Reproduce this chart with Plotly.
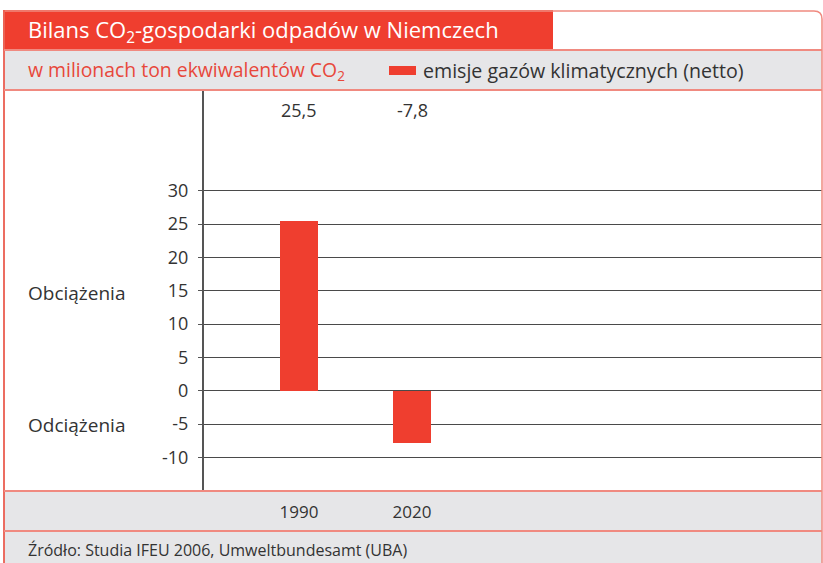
import plotly.graph_objects as go

# ---- data ----
years = ["1990", "2020"]
values = [25.5, -7.8]
value_labels = ["25,5", "-7,8"]
y_ticks = [-10, -5, 0, 5, 10, 15, 20, 25, 30]
title_text = "Bilans CO<sub>2</sub>-gospodarki odpadów w Niemczech"
subtitle_text = "w milionach ton ekwiwalentów CO<sub>2</sub>"
legend_text = "emisje gazów klimatycznych (netto)"
source_text = "Źródło: Studia IFEU 2006, Umweltbundesamt (UBA)"
side_labels = ["Obciążenia", "Odciążenia"]

# ---- layout geometry (pixels) ----
W, H = 823, 563
L, R, T, B = 204, 822, 90, 491
RED = "#ef3e2f"
LINE_RED = "#f08a80"
GRAY = "#e6e6e8"
TXT = "#333333"
FONT = "Open Sans"


def px(x):
    return (x - L) / (R - L)


def py(y):
    return (B - y) / (B - T)


fig = go.Figure()
fig.add_trace(go.Bar(x=years, y=values, marker=dict(color=RED, line=dict(width=0)),
                     width=0.336, showlegend=False, hoverinfo="x+y"))

shapes = []
# gray bands
shapes.append(dict(type="rect", xref="paper", yref="paper", x0=px(4), x1=px(822), y0=py(50), y1=py(90),
                   fillcolor=GRAY, line=dict(width=0), layer="below"))
shapes.append(dict(type="rect", xref="paper", yref="paper", x0=px(4), x1=px(822), y0=py(491), y1=py(563),
                   fillcolor=GRAY, line=dict(width=0), layer="below"))
# title red bar
shapes.append(dict(type="rect", xref="paper", yref="paper", x0=px(3), x1=px(553), y0=py(10), y1=py(50),
                   fillcolor=RED, line=dict(width=0), layer="below"))
# outer border
shapes.append(dict(type="path", xref="paper", yref="paper",
                   path=f"M {px(4)},{py(563)} L {px(4)},{py(11)} L {px(814)},{py(11)} "
                        f"Q {px(822)},{py(11)} {px(822)},{py(19)} L {px(822)},{py(563)}",
                   line=dict(color=LINE_RED, width=1.5), layer="above"))
shapes.append(dict(type="line", xref="paper", yref="paper", x0=px(4), x1=px(4), y0=py(10), y1=py(563),
                   line=dict(color="#ea5a4c", width=1.5), layer="above"))
# red separator lines
for yy in (50, 90, 491, 531):
    shapes.append(dict(type="line", xref="paper", yref="paper", x0=px(4), x1=px(822), y0=py(yy), y1=py(yy),
                       line=dict(color=LINE_RED, width=2), layer="above"))
# legend swatch
shapes.append(dict(type="rect", xref="paper", yref="paper", x0=px(389), x1=px(416), y0=py(66), y1=py(75),
                   fillcolor=RED, line=dict(width=0), layer="above"))

annotations = []
annotations.append(dict(text=title_text, xref="paper", yref="paper", x=px(26), y=py(31),
                        xanchor="left", yanchor="middle", showarrow=False,
                        font=dict(family=FONT, size=22, color="white")))
annotations.append(dict(text=subtitle_text, xref="paper", yref="paper", x=px(26), y=py(71),
                        xanchor="left", yanchor="middle", showarrow=False,
                        font=dict(family=FONT, size=19.4, color="#e8483b")))
annotations.append(dict(text=legend_text, xref="paper", yref="paper", x=px(421), y=py(71),
                        xanchor="left", yanchor="middle", showarrow=False,
                        font=dict(family=FONT, size=19.6, color=TXT)))
annotations.append(dict(text=source_text, xref="paper", yref="paper", x=px(26), y=py(550),
                        xanchor="left", yanchor="middle", showarrow=False,
                        font=dict(family=FONT, size=16, color=TXT)))
for i, lab in enumerate(value_labels):
    annotations.append(dict(text=lab, xref="x", yref="paper", x=i, y=py(110),
                            xanchor="center", yanchor="middle", showarrow=False,
                            font=dict(family=FONT, size=18, color=TXT)))
for lab, yy in zip(side_labels, (293, 425)):
    annotations.append(dict(text=lab, xref="paper", yref="paper", x=px(26), y=py(yy),
                            xanchor="left", yanchor="middle", showarrow=False,
                            font=dict(family=FONT, size=19, color=TXT)))

fig.update_layout(
    width=W, height=H,
    margin=dict(l=L, r=W - R, t=T, b=H - B, pad=0),
    paper_bgcolor="white", plot_bgcolor="white",
    showlegend=False,
    shapes=shapes, annotations=annotations,
    bargap=0,
    xaxis=dict(type="category", range=[-0.841, 4.628], showgrid=False, zeroline=False,
               showline=False, ticks="", tickvals=years, ticktext=years, ticklabelstandoff=9,
               tickfont=dict(family=FONT, size=17, color=TXT), fixedrange=True),
    yaxis=dict(range=[-15.05, 45.1], tickvals=y_ticks, ticktext=[str(v) for v in y_ticks],
               showgrid=True, gridcolor="#4a4a4a", gridwidth=1, zeroline=False,
               showline=True, linecolor="#555555", linewidth=2, ticks="outside", ticklen=4,
               tickcolor="#555555", tickwidth=1, ticklabelstandoff=6,
               tickfont=dict(family=FONT, size=18, color=TXT), fixedrange=True),
)

fig.write_html("out.html", config={"displayModeBar": False},
               post_script="document.body.style.margin='0';document.body.style.overflow='hidden';")
